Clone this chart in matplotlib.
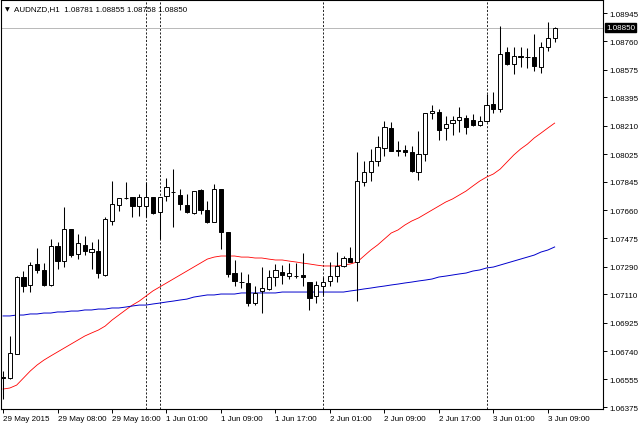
import matplotlib
matplotlib.use("Agg")
import matplotlib.pyplot as plt
from matplotlib.patches import Rectangle

symbol_title = "AUDNZD,H1  1.08781 1.08855 1.08758 1.08850"

opens = [1.06571, 1.06564, 1.06721, 1.07223, 1.07171, 1.07308, 1.07269, 1.07171, 1.07425, 1.07327,
         1.07536, 1.07373, 1.07432, 1.07386, 1.07393, 1.07236, 1.07588, 1.07693, 1.07738, 1.07745,
         1.07686, 1.07686, 1.07745, 1.07647, 1.07751, 1.07780, 1.07758, 1.07693, 1.07640, 1.07790,
         1.07660, 1.07582, 1.07797, 1.07516, 1.07249, 1.07190, 1.07184, 1.07053, 1.07132, 1.07145,
         1.07223, 1.07256, 1.07229, 1.07230, 1.07236, 1.07190, 1.07099, 1.07164, 1.07197, 1.07229,
         1.07295, 1.07347, 1.07321, 1.07843, 1.07908, 1.07980, 1.08064, 1.08195, 1.08051, 1.08051,
         1.08038, 1.07908, 1.08025, 1.08293, 1.08299, 1.08195, 1.08228, 1.08247, 1.08260, 1.08247,
         1.08214, 1.08241, 1.08351, 1.08319, 1.08691, 1.08612, 1.08665, 1.08660, 1.08658, 1.08593,
         1.08723, 1.08781]
highs = [1.06610, 1.06838, 1.07229, 1.07262, 1.07321, 1.07412, 1.07314, 1.07471, 1.07451, 1.07680,
         1.07536, 1.07503, 1.07490, 1.07451, 1.07471, 1.07614, 1.07849, 1.07738, 1.07843, 1.07745,
         1.07764, 1.07843, 1.07745, 1.07745, 1.07869, 1.07927, 1.07797, 1.07764, 1.07784, 1.07797,
         1.07719, 1.07830, 1.07797, 1.07516, 1.07334, 1.07256, 1.07243, 1.07164, 1.07288, 1.07269,
         1.07308, 1.07301, 1.07314, 1.07314, 1.07380, 1.07190, 1.07197, 1.07223, 1.07321, 1.07386,
         1.07360, 1.07419, 1.08038, 1.07980, 1.08058, 1.08143, 1.08241, 1.08234, 1.08110, 1.08084,
         1.08077, 1.08175, 1.08293, 1.08345, 1.08319, 1.08273, 1.08273, 1.08332, 1.08280, 1.08286,
         1.08273, 1.08417, 1.08430, 1.08860, 1.08723, 1.08723, 1.08723, 1.08717, 1.08808, 1.08756,
         1.08886, 1.08855]
lows = [1.06427, 1.06558, 1.06721, 1.07125, 1.07125, 1.07249, 1.07164, 1.07164, 1.07275, 1.07288,
        1.07353, 1.07340, 1.07366, 1.07275, 1.07216, 1.07229, 1.07562, 1.07653, 1.07732, 1.07614,
        1.07621, 1.07614, 1.07634, 1.07471, 1.07719, 1.07549, 1.07660, 1.07640, 1.07634, 1.07634,
        1.07575, 1.07582, 1.07406, 1.07223, 1.07164, 1.07151, 1.07034, 1.07040, 1.06988, 1.07138,
        1.07164, 1.07177, 1.07210, 1.07216, 1.07164, 1.07008, 1.07053, 1.07106, 1.07164, 1.07190,
        1.07288, 1.07321, 1.07066, 1.07817, 1.07849, 1.07947, 1.08012, 1.08045, 1.08012, 1.08012,
        1.07908, 1.07856, 1.07980, 1.08254, 1.08117, 1.08117, 1.08149, 1.08169, 1.08156, 1.08208,
        1.08208, 1.08234, 1.08293, 1.08299, 1.08606, 1.08547, 1.08593, 1.08586, 1.08567, 1.08554,
        1.08697, 1.08758]
closes = [1.06564, 1.06727, 1.07223, 1.07164, 1.07301, 1.07269, 1.07171, 1.07425, 1.07327, 1.07536,
          1.07366, 1.07445, 1.07393, 1.07406, 1.07249, 1.07601, 1.07699, 1.07738, 1.07740, 1.07686,
          1.07745, 1.07745, 1.07640, 1.07745, 1.07809, 1.07775, 1.07699, 1.07647, 1.07784, 1.07660,
          1.07582, 1.07797, 1.07516, 1.07243, 1.07197, 1.07188, 1.07053, 1.07119, 1.07151, 1.07223,
          1.07269, 1.07236, 1.07249, 1.07229, 1.07223, 1.07086, 1.07171, 1.07190, 1.07229, 1.07295,
          1.07347, 1.07321, 1.07849, 1.07908, 1.07980, 1.08071, 1.08201, 1.08045, 1.08048, 1.08038,
          1.07914, 1.08025, 1.08293, 1.08306, 1.08182, 1.08221, 1.08247, 1.08267, 1.08201, 1.08214,
          1.08241, 1.08345, 1.08319, 1.08678, 1.08612, 1.08665, 1.08658, 1.08658, 1.08599, 1.08723,
          1.08782, 1.08850]

ma_red = [1.06492, 1.06499, 1.06518, 1.06564, 1.06610, 1.06649, 1.06681, 1.06708, 1.06734, 1.06760,
          1.06786, 1.06812, 1.06838, 1.06858, 1.06877, 1.06903, 1.06942, 1.06975, 1.07008, 1.07040,
          1.07066, 1.07099, 1.07132, 1.07158, 1.07184, 1.07210, 1.07236, 1.07262, 1.07288, 1.07314,
          1.07340, 1.07353, 1.07360, 1.07360, 1.07360, 1.07353, 1.07353, 1.07347, 1.07347, 1.07340,
          1.07334, 1.07334, 1.07327, 1.07321, 1.07314, 1.07308, 1.07301, 1.07295, 1.07295, 1.07295,
          1.07301, 1.07308, 1.07321, 1.07360, 1.07399, 1.07432, 1.07471, 1.07510, 1.07530, 1.07562,
          1.07588, 1.07608, 1.07634, 1.07660, 1.07686, 1.07712, 1.07732, 1.07758, 1.07784, 1.07817,
          1.07849, 1.07875, 1.07895, 1.07927, 1.07973, 1.08019, 1.08058, 1.08090, 1.08130, 1.08162,
          1.08195, 1.08227]
ma_blue = [1.06969, 1.06969, 1.06975, 1.06975, 1.06982, 1.06982, 1.06988, 1.06988, 1.06995, 1.06995,
           1.07001, 1.07001, 1.07008, 1.07008, 1.07014, 1.07014, 1.07021, 1.07021, 1.07027, 1.07034,
           1.07040, 1.07040, 1.07047, 1.07053, 1.07060, 1.07066, 1.07073, 1.07079, 1.07092, 1.07099,
           1.07106, 1.07106, 1.07112, 1.07112, 1.07112, 1.07119, 1.07119, 1.07119, 1.07119, 1.07119,
           1.07119, 1.07125, 1.07125, 1.07125, 1.07125, 1.07125, 1.07125, 1.07125, 1.07125, 1.07125,
           1.07125, 1.07132, 1.07138, 1.07145, 1.07151, 1.07158, 1.07164, 1.07171, 1.07177, 1.07184,
           1.07190, 1.07197, 1.07203, 1.07210, 1.07223, 1.07229, 1.07236, 1.07243, 1.07249, 1.07262,
           1.07269, 1.07282, 1.07288, 1.07301, 1.07314, 1.07327, 1.07340, 1.07353, 1.07366, 1.07386,
           1.07399, 1.07419]

separators = [21, 23, 47, 71]
bid_price = 1.08850

price_ticks = [1.08945, 1.08760, 1.08575, 1.08395, 1.08210, 1.08025, 1.07845, 1.07660,
               1.07475, 1.07290, 1.07110, 1.06925, 1.06740, 1.06555, 1.06375]
time_tick_pos = [0, 8, 16, 24, 32, 40, 48, 56, 64, 72, 80]
time_tick_labels = ["29 May 2015", "29 May 08:00", "29 May 16:00", "1 Jun 01:00", "1 Jun 09:00",
                    "1 Jun 17:00", "2 Jun 01:00", "2 Jun 09:00", "2 Jun 17:00", "3 Jun 01:00",
                    "3 Jun 09:00"]

FONT = "Liberation Sans"
FS = 5.8

fig = plt.figure(figsize=(6.4, 4.27), dpi=100)
W, H = 640, 427
ax = fig.add_axes([1 / W, (H - 410) / H, 602 / W, 409 / H])
ax.set_xlim(-0.3, 88.1)
ax.set_ylim(1.06362, 1.09030)

# moving averages
idx = list(range(len(closes)))
ax.plot(idx, ma_red, color="#ff0000", lw=0.6, zorder=2)
ax.plot(idx, ma_blue, color="#0000cc", lw=0.7, zorder=2)

# separators and bid line
for s in separators:
    ax.axvline(s, color="black", lw=0.6, ls=(0, (2.5, 2)), zorder=1)
ax.axhline(bid_price, color="#b8b8b8", lw=0.7, zorder=1)

bw = 0.62
for i, (o, h, l, c) in enumerate(zip(opens, highs, lows, closes)):
    ax.plot([i, i], [l, h], color="black", lw=0.75, zorder=3, solid_capstyle="butt")
    bottom = min(o, c)
    height = max(abs(c - o), 0.000025)
    face = "white" if c >= o else "black"
    ax.add_patch(Rectangle((i - bw / 2, bottom), bw, height, facecolor=face,
                           edgecolor="black", lw=0.7, zorder=4))

# axes styling
for sp in ["left", "top", "bottom", "right"]:
    ax.spines[sp].set_color("black")
    ax.spines[sp].set_linewidth(0.8)

ax.yaxis.tick_right()
ax.set_yticks(price_ticks)
ax.set_yticklabels([f"{p:.5f}" for p in price_ticks], fontsize=FS, family=FONT)
ax.tick_params(axis="y", direction="out", length=3, width=0.7, pad=1.5, colors="black")

ax.set_xticks(time_tick_pos)
ax.set_xticklabels(time_tick_labels, fontsize=FS, family=FONT, ha="left")
ax.tick_params(axis="x", direction="out", length=3, width=0.7, pad=1.5, colors="black")
for lab in ax.get_xticklabels():
    lab.set_horizontalalignment("left")

# bid price label
ax.text(1.005, bid_price, f"{bid_price:.5f}", transform=ax.get_yaxis_transform(),
        fontsize=FS, family=FONT, color="white", va="center", ha="left",
        bbox=dict(boxstyle="square,pad=0.15", facecolor="black", edgecolor="black"),
        clip_on=False, zorder=10)

# title
ax.text(0.006, 0.979, "\u25bc", transform=ax.transAxes, fontsize=4.5, va="center", ha="left",
        family="DejaVu Sans")
ax.text(0.022, 0.979, symbol_title, transform=ax.transAxes, fontsize=FS, family=FONT,
        va="center", ha="left")

fig.savefig("out.png", dpi=100, facecolor="white")
